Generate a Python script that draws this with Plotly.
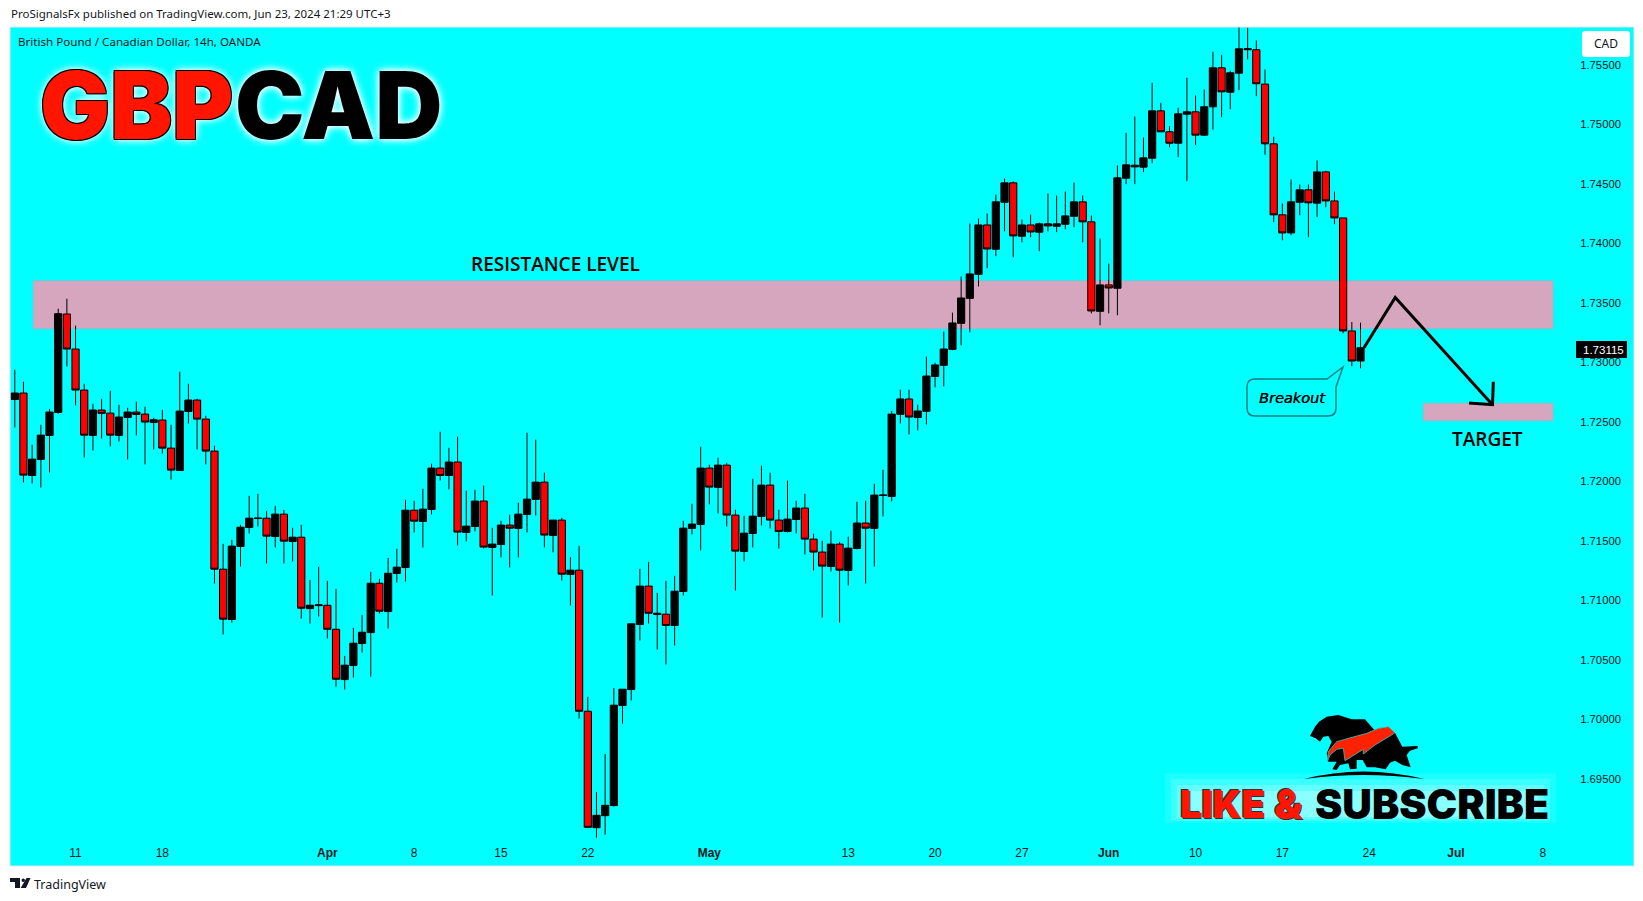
import plotly.graph_objects as go

# GBPCAD 14h candles (black = up, red = down)
opens = [1.72680,1.72734,1.72041,1.72176,1.72378,1.72571,1.73398,1.73104,1.72759,1.72378,
1.72591,1.72565,1.72378,1.72529,1.72574,1.72557,1.72487,1.72507,1.72271,1.72083,
1.72579,1.72675,1.72515,1.72246,1.71253,1.70830,1.71444,1.71604,1.71679,1.71682,
1.71528,1.71716,1.71486,1.71522,1.70922,1.70947,1.70950,1.70748,1.70325,1.70443,
1.70628,1.70720,1.71135,1.70897,1.71217,1.71267,1.71749,1.71655,1.71755,1.72103,
1.72041,1.72154,1.71562,1.71612,1.71826,1.71436,1.71461,1.71624,1.71596,1.71713,
1.71840,1.71985,1.71537,1.71666,1.71209,1.71245,1.70059,1.69080,1.69181,1.69266,
1.70107,1.70241,1.70788,1.71111,1.70872,1.70875,1.70780,1.71066,1.71596,1.71629,
1.72103,1.71941,1.72128,1.71708,1.71402,1.71554,1.71697,1.71960,1.71666,1.71570,
1.71671,1.71767,1.71506,1.71397,1.71276,1.71464,1.71242,1.71427,1.71641,1.71596,
1.71873,1.71865,1.72555,1.72684,1.72529,1.72580,1.72874,1.72967,1.73101,1.73320,
1.73530,1.73732,1.74147,1.73943,1.74338,1.74501,1.74052,1.74147,1.74086,1.74156,
1.74136,1.74153,1.74220,1.74341,1.74173,1.73421,1.73643,1.73615,1.74540,1.74649,
1.74633,1.74708,1.75106,1.74930,1.74834,1.75078,1.75098,1.74902,1.75140,1.75468,
1.75263,1.75423,1.75620,1.75620,1.75331,1.74829,1.74232,1.74080,1.74338,1.74442,
1.74330,1.74593,1.74349,1.74206,1.73256,1.73003]
highs = [1.72930,1.72829,1.72299,1.72467,1.72599,1.73443,1.73527,1.73300,1.72812,1.72644,
1.72686,1.72753,1.72635,1.72610,1.72661,1.72619,1.72526,1.72593,1.72467,1.72913,
1.72812,1.72686,1.72543,1.72291,1.71466,1.71500,1.71626,1.71870,1.71887,1.71744,
1.71786,1.71752,1.71601,1.71626,1.71163,1.71273,1.71155,1.71088,1.70524,1.70760,
1.70869,1.71231,1.71172,1.71348,1.71424,1.71836,1.71828,1.71929,1.72140,1.72409,
1.72274,1.72367,1.71913,1.71921,1.71955,1.71601,1.71660,1.71711,1.71812,1.72400,
1.72342,1.72064,1.71666,1.71685,1.71354,1.71450,1.70180,1.69380,1.69700,1.70255,
1.70244,1.70794,1.71256,1.71315,1.71054,1.71155,1.71197,1.71660,1.71803,1.72283,
1.72131,1.72190,1.72148,1.71753,1.71702,1.72013,1.72123,1.72064,1.71753,1.71997,
1.71828,1.71887,1.71551,1.71492,1.71576,1.71483,1.71526,1.71820,1.71828,1.71971,
1.72089,1.72583,1.72762,1.72762,1.72636,1.73040,1.72989,1.73250,1.73410,1.73713,
1.74159,1.74201,1.74243,1.74402,1.74537,1.74512,1.74192,1.74234,1.74167,1.74411,
1.74394,1.74428,1.74503,1.74394,1.74226,1.74032,1.73822,1.74647,1.74921,1.75059,
1.74882,1.75342,1.75174,1.74977,1.75132,1.75384,1.75235,1.75286,1.75603,1.75578,
1.75443,1.75813,1.75805,1.75698,1.75454,1.74888,1.74327,1.74529,1.74487,1.74487,
1.74689,1.74602,1.74428,1.74206,1.73331,1.73326]
lows = [1.72445,1.71982,1.71974,1.71940,1.72066,1.72560,1.72958,1.72630,1.72192,1.72251,
1.72352,1.72285,1.72327,1.72176,1.72378,1.72134,1.72260,1.72226,1.72007,1.72083,
1.72478,1.72260,1.72134,1.71133,1.70704,1.70804,1.71276,1.71553,1.71612,1.71301,
1.71435,1.71301,1.71318,1.70838,1.70796,1.70855,1.70670,1.70266,1.70241,1.70342,
1.70552,1.70350,1.70880,1.70754,1.71141,1.71149,1.71562,1.71436,1.71713,1.71999,
1.71924,1.71453,1.71486,1.71570,1.71427,1.71032,1.71352,1.71268,1.71352,1.71562,
1.71705,1.71436,1.71394,1.71158,1.70948,1.69997,1.69083,1.68996,1.69022,1.69257,
1.69955,1.70149,1.70653,1.70797,1.70578,1.70452,1.70611,1.71032,1.71545,1.71411,
1.71798,1.71722,1.71612,1.71074,1.71318,1.71436,1.71621,1.71596,1.71427,1.71562,
1.71554,1.71377,1.71242,1.70847,1.71234,1.70805,1.71116,1.71419,1.71133,1.71276,
1.71697,1.71823,1.72479,1.72386,1.72420,1.72470,1.72782,1.72790,1.73093,1.73135,
1.73244,1.73631,1.73783,1.73884,1.74094,1.73875,1.74001,1.74044,1.73926,1.74094,
1.74086,1.74111,1.74128,1.74001,1.73404,1.73303,1.73404,1.73388,1.74490,1.74490,
1.74591,1.74666,1.74930,1.74801,1.74717,1.74515,1.74818,1.74895,1.74949,1.75053,
1.75120,1.75280,1.75538,1.75230,1.74736,1.74170,1.74018,1.74061,1.74229,1.74044,
1.74212,1.74296,1.74153,1.73236,1.72959,1.72942]
closes = [1.72734,1.72044,1.72178,1.72380,1.72574,1.73401,1.73104,1.72759,1.72380,1.72591,
1.72563,1.72380,1.72532,1.72574,1.72554,1.72490,1.72509,1.72271,1.72086,1.72582,
1.72675,1.72515,1.72246,1.71253,1.70833,1.71447,1.71606,1.71682,1.71682,1.71531,
1.71716,1.71489,1.71522,1.70925,1.70950,1.70953,1.70748,1.70328,1.70446,1.70631,
1.70723,1.71135,1.70900,1.71219,1.71270,1.71749,1.71657,1.71758,1.72103,1.72041,
1.72154,1.71565,1.71615,1.71826,1.71439,1.71464,1.71624,1.71598,1.71716,1.71842,
1.71985,1.71540,1.71666,1.71211,1.71245,1.70059,1.69083,1.69184,1.69268,1.70110,
1.70244,1.70794,1.71111,1.70883,1.70883,1.70780,1.71068,1.71598,1.71632,1.72103,
1.71943,1.72128,1.71708,1.71405,1.71556,1.71699,1.71960,1.71666,1.71570,1.71674,
1.71767,1.71506,1.71397,1.71279,1.71464,1.71245,1.71430,1.71641,1.71598,1.71876,
1.71876,1.72557,1.72684,1.72532,1.72583,1.72877,1.72970,1.73104,1.73323,1.73533,
1.73735,1.74147,1.73945,1.74341,1.74501,1.74055,1.74147,1.74088,1.74156,1.74139,
1.74156,1.74223,1.74341,1.74173,1.73424,1.73643,1.73617,1.74543,1.74652,1.74635,
1.74711,1.75106,1.74930,1.74834,1.75081,1.75098,1.74902,1.75140,1.75468,1.75266,
1.75426,1.75628,1.75628,1.75334,1.74829,1.74232,1.74080,1.74341,1.74442,1.74333,
1.74593,1.74349,1.74206,1.73256,1.73003,1.73115]
bars = list(range(len(opens)))

date_ticks = [7, 17, 36, 46, 56, 66, 80, 96, 106, 116, 126, 136, 146, 156, 166, 176]
date_labels = ["11", "18", "<b>Apr</b>", "8", "15", "22", "<b>May</b>", "13", "20", "27",
               "<b>Jun</b>", "10", "17", "24", "<b>Jul</b>", "8"]
price_ticks = [1.695, 1.70, 1.705, 1.71, 1.715, 1.72, 1.725, 1.73, 1.735, 1.74, 1.745, 1.75, 1.755]

resistance_zone = [1.73273, 1.73679]
target_zone = [1.72499, 1.72650]
projection_bars = [155.4, 159, 170.2]
projection_prices = [1.73115, 1.73538, 1.72636]
arrow_bars = [167.5, 170.2, 170.3]
arrow_prices = [1.72650, 1.72636, 1.72829]
last_price = 1.73115

W, H = 1643, 901
L, R, T, B = 10, 9, 27, 35
CYAN = "#00ffff"
ZONE = "#d5a6bd"
UI_FONT = "Noto Sans"
AXIS_FONT = "Liberation Sans"
HEAVY = "Inter"


def px(x):
    return (x - L) / (W - L - R)


def py(y):
    return 1 - (y - T) / (H - T - B)


def logo_path(points):
    # points come from a 3x crop starting at (1295, 710)
    out = []
    for i, (a, b) in enumerate(points):
        out.append(("M" if i == 0 else "L") + f"{px(1295 + a / 3):.5f},{py(710 + b / 3):.5f}")
    return " ".join(out) + " Z"


def paper_shape(path, fill, line=None, width=0):
    return dict(type="path", path=path, xref="paper", yref="paper", fillcolor=fill,
                line=dict(color=line or fill, width=width), layer="above")


fig = go.Figure()

fig.add_trace(go.Candlestick(
    x=bars, open=opens, high=highs, low=lows, close=closes,
    increasing=dict(fillcolor="#000000", line=dict(color="#000000", width=1)),
    decreasing=dict(fillcolor="#ff0000", line=dict(color="#000000", width=1)),
    whiskerwidth=0, showlegend=False, hoverinfo="skip",
))

for xs, ys in [(projection_bars, projection_prices), (arrow_bars, arrow_prices)]:
    fig.add_trace(go.Scatter(x=xs, y=ys, mode="lines", showlegend=False, hoverinfo="skip",
                             line=dict(color="#000000", width=3)))

shapes = [
    dict(type="rect", x0=2.1, x1=177.2, y0=resistance_zone[0], y1=resistance_zone[1], xref="x", yref="y",
         fillcolor=ZONE, line=dict(color="#5fd0e0", width=1), layer="below"),
    dict(type="rect", x0=162.2, x1=177.2, y0=target_zone[0], y1=target_zone[1], xref="x", yref="y",
         fillcolor=ZONE, line=dict(color="#5fd0e0", width=1), layer="below"),
    dict(type="rect", x0=0, x1=1, y0=0, y1=1, xref="paper", yref="paper",
         line=dict(color="#dfe3ea", width=1), layer="above"),
]

# Breakout callout
cx0, cx1, cy0, cy1 = px(1247), px(1336), py(379), py(416)
rx, ry = px(1247 + 8) - px(1247), py(379) - py(379 + 8)
shapes.append(paper_shape(
    f"M{cx0 + rx},{cy0} L{px(1327)},{cy0} L{px(1343)},{py(367)} L{px(1336)},{py(387)} L{cx1},{cy1 + ry} "
    f"Q{cx1},{cy1} {cx1 - rx},{cy1} L{cx0 + rx},{cy1} Q{cx0},{cy1} {cx0},{cy1 + ry} "
    f"L{cx0},{cy0 - ry} Q{cx0},{cy0} {cx0 + rx},{cy0} Z",
    "rgba(0,0,0,0)", "#157f80", 1.5))

# soft glow behind LIKE & SUBSCRIBE
for inset, alpha in [(0, 0.10), (6, 0.15), (12, 0.20), (18, 0.25)]:
    shapes.append(dict(type="rect", xref="paper", yref="paper", x0=px(1165 + inset), x1=px(1556 - inset),
                       y0=py(823 - inset / 3), y1=py(773 + inset), fillcolor=f"rgba(255,255,255,{alpha})",
                       line=dict(width=0), layer="below"))

# bear and bull logo
shapes.append(paper_shape(logo_path([
    (45, 78), (60, 50), (72, 35), (95, 20), (130, 15), (170, 28), (210, 28), (240, 62), (300, 68),
    (322, 110), (368, 108), (368, 115), (345, 122), (335, 135), (347, 172), (322, 165), (300, 152),
    (285, 158), (272, 178), (240, 172), (215, 172), (203, 150), (185, 150), (185, 176), (165, 178),
    (160, 160), (135, 165), (125, 180), (112, 178), (125, 155), (100, 155), (95, 130), (110, 95),
    (100, 78), (85, 80), (75, 95), (62, 85)]), "#000000"))
shapes.append(paper_shape(logo_path([
    (97, 155), (100, 125), (125, 95), (160, 85), (215, 70), (250, 55), (280, 50), (300, 68), (285, 78),
    (240, 105), (205, 132), (205, 118), (150, 152), (145, 115), (125, 118), (105, 135)]),
    "#ff2200", "#33c4c4", 0.8))
shapes.append(paper_shape(
    f"M{px(1304)},{py(779)} Q{px(1363)},{py(764)} {px(1424)},{py(779)} Q{px(1363)},{py(771)} {px(1304)},{py(779)} Z",
    "#000000"))

# TradingView mark
shapes.append(paper_shape(
    f"M{px(10)},{py(878)} L{px(20)},{py(878)} L{px(20)},{py(888)} L{px(15)},{py(888)} L{px(15)},{py(882)} L{px(10)},{py(882)} Z",
    "#131722"))
shapes.append(paper_shape(
    f"M{px(26.5)},{py(878)} L{px(30.5)},{py(878)} L{px(26)},{py(888)} L{px(20.7)},{py(888)} Z", "#131722"))
shapes.append(dict(type="circle", xref="paper", yref="paper", x0=px(21.5), x1=px(25), y0=py(882), y1=py(878.5),
                   fillcolor="#131722", line=dict(width=0), layer="above"))

# price tag and currency box
shapes.append(dict(type="rect", xref="paper", yref="paper", x0=px(1576), x1=px(1627), y0=py(358), y1=py(341),
                   fillcolor="#000000", line=dict(width=0), layer="above"))
r = 3
shapes.append(paper_shape(
    f"M{px(1582 + r)},{py(31)} L{px(1630 - r)},{py(31)} Q{px(1630)},{py(31)} {px(1630)},{py(31 + r)} "
    f"L{px(1630)},{py(57 - r)} Q{px(1630)},{py(57)} {px(1630 - r)},{py(57)} L{px(1582 + r)},{py(57)} "
    f"Q{px(1582)},{py(57)} {px(1582)},{py(57 - r)} L{px(1582)},{py(31 + r)} Q{px(1582)},{py(31)} {px(1582 + r)},{py(31)} Z",
    "#ffffff"))

GLOW = "0 0 6px #ffffff, 0 0 10px #ffffff"
OUTLINE = "1px 1px 0 #000, -1px 1px 0 #000, 1px -1px 0 #000, -1px -1px 0 #000, 0 0 7px #ffffff, 0 0 10px #ffffff"


def label(x, y, text, size, color="#000000", family=UI_FONT, anchor="left", **font_extra):
    fig.add_annotation(xref="paper", yref="paper", x=px(x), y=py(y), text=text, showarrow=False,
                       xanchor=anchor, yanchor="middle",
                       font=dict(family=family, size=size, color=color, **font_extra))


label(9, 14, "ProSignalsFx published on TradingView.com, Jun 23, 2024 21:29 UTC+3", 11.5, "#131722")
label(16, 42, "British Pound / Canadian Dollar, 14h, OANDA", 11.6, "#131722")
label(38, 105, "GBP", 93, "#ff1500", HEAVY, weight=900, shadow=OUTLINE)
label(233, 105, "CAD", 93, "#000000", HEAVY, weight=900, shadow=GLOW)
label(555, 264, "RESISTANCE LEVEL", 19, family="Open Sans", anchor="center", weight=600)
label(1487, 439, "TARGET", 19, family="Open Sans", anchor="center", weight=600)
label(1292, 398, "Breakout", 14.5, family="DejaVu Sans", anchor="center", style="italic", shadow="0.3px 0 0 #000")
label(1606, 44, "CAD", 12, "#131722", anchor="center")
label(1603, 350, f"{last_price:.5f}", 11.5, "#ffffff", AXIS_FONT, anchor="center")
label(1178, 804, "LIKE", 38, "#ff1500", HEAVY, weight=900, shadow="1px 1px 0 #333, -1px -1px 0 #333")
label(1272, 804, "&", 41, "#ff1500", HEAVY, weight=900, shadow="1px 1px 0 #333, -1px -1px 0 #333")
label(1313, 804, "SUBSCRIBE", 41, "#000000", HEAVY, weight=900)
label(32, 884, "TradingView", 12.5, "#131722")

fig.update_layout(
    width=W, height=H,
    margin=dict(l=L, r=R, t=T, b=B),
    paper_bgcolor="#ffffff",
    plot_bgcolor=CYAN,
    boxgap=0.17,
    boxgroupgap=0,
    showlegend=False,
    shapes=shapes,
    xaxis=dict(
        range=[-0.55, 186.5], rangeslider=dict(visible=False), showgrid=False, zeroline=False,
        tickmode="array", tickvals=date_ticks, ticktext=date_labels, ticks="", showline=False,
        ticklabelposition="inside", ticklabelstandoff=4,
        tickfont=dict(family=AXIS_FONT, size=12, color="#131722"),
    ),
    yaxis=dict(
        range=[1.68758, 1.75811], side="right", showgrid=False, zeroline=False, ticks="", showline=False,
        tickmode="array", tickvals=price_ticks, ticktext=[f"{p:.5f}" for p in price_ticks],
        ticklabelposition="inside", ticklabelstandoff=10, ticklabelshift=1,
        tickfont=dict(family=AXIS_FONT, size=11.3, color="#131722"),
    ),
)

fig.write_html("out.html", config=dict(displayModeBar=False),
               post_script="document.body.style.margin='0'")
